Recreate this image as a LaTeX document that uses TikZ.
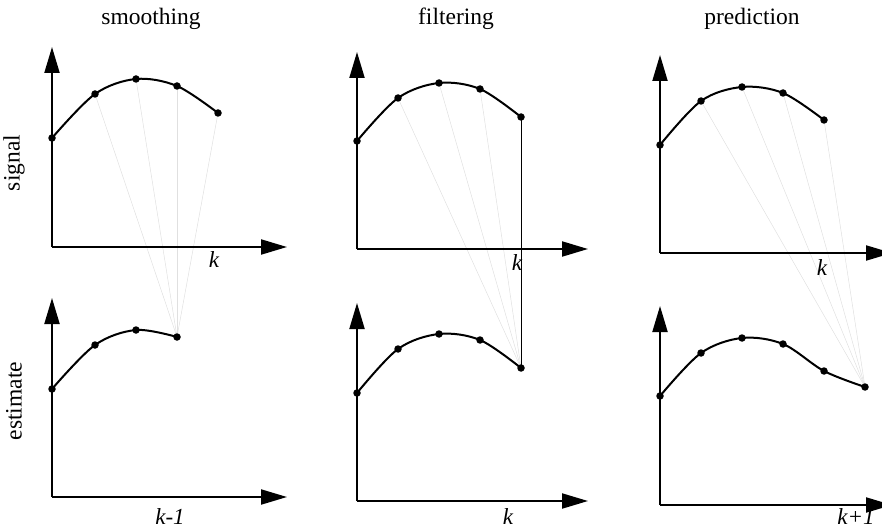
\documentclass[tikz,border=0pt]{standalone}
\usepackage{fontspec}
\setmainfont{Liberation Serif}
\usetikzlibrary{arrows.meta}
\begin{document}
\begin{tikzpicture}[x=1pt,y=-1pt,
  axis/.style={line width=2pt,-{Triangle[length=26pt,width=15pt]}},
  curve/.style={line width=2pt,line join=round},
  dot/.style={circle,fill=black,inner sep=0pt,minimum size=7.5pt},
  ray/.style={line width=0.5pt,draw=black!12},
  lbl/.style={font=\fontsize{23.5}{25}\selectfont},
  klbl/.style={inner sep=0pt,font=\fontsize{23}{25}\selectfont\itshape}]
\useasboundingbox (0,0) rectangle (882,529);
% titles
\node[lbl] (t1) at (151,19) {smoothing};
\node[lbl] (t2) at (456,19) {filtering};
\node[lbl] (t3) at (752,19) {prediction};
\node[lbl,rotate=90] (ysig) at (14,163) {signal};
\node[lbl,rotate=90] (yest) at (14,401) {estimate};
% axes origins
\coordinate (o1) at (52,247); \coordinate (o2) at (357,249); \coordinate (o3) at (660,253);
\coordinate (o4) at (52,497); \coordinate (o5) at (357,501); \coordinate (o6) at (660,505);
\coordinate (y1) at (52,47);  \coordinate (y2) at (357,52);  \coordinate (y3) at (660,55);
\coordinate (y4) at (52,298); \coordinate (y5) at (357,303); \coordinate (y6) at (660,306);
\coordinate (x1) at (287,247); \coordinate (x2) at (588,249); \coordinate (x3) at (892,253);
\coordinate (x4) at (287,497); \coordinate (x5) at (588,501); \coordinate (x6) at (892,505);
% points
\coordinate (a1) at (52,138); \coordinate (a2) at (95,94); \coordinate (a3) at (136,79); \coordinate (a4) at (177,86); \coordinate (a5) at (218,113);
\coordinate (b1) at (357,141); \coordinate (b2) at (398,98); \coordinate (b3) at (439,83); \coordinate (b4) at (480,89); \coordinate (b5) at (521,117);
\coordinate (c1) at (660,145); \coordinate (c2) at (701,101); \coordinate (c3) at (742,87); \coordinate (c4) at (783,93); \coordinate (c5) at (824,120);
\coordinate (d1) at (52,389); \coordinate (d2) at (95,345); \coordinate (d3) at (136,330); \coordinate (d4) at (177,337);
\coordinate (e1) at (357,393); \coordinate (e2) at (398,349); \coordinate (e3) at (439,334); \coordinate (e4) at (480,340); \coordinate (e5) at (521,368);
\coordinate (f1) at (660,396); \coordinate (f2) at (701,353); \coordinate (f3) at (742,338); \coordinate (f4) at (783,344); \coordinate (f5) at (824,371); \coordinate (f6) at (865,387);
% rays
\foreach \p in {a2,a3,a4,a5} \draw[ray] (\p) -- (d4);
\foreach \p in {b2,b3,b4} \draw[ray] (\p) -- (e5);
\foreach \p in {c2,c3,c4,c5} \draw[ray] (\p) -- (f6);
\draw[line width=1pt] (b5) -- (e5);
% axes
\foreach \i in {1,...,6} {
  \draw[axis] (o\i) -- (y\i);
  \draw[axis] (o\i) -- (x\i);
}
% curves
\draw[curve] plot[smooth,tension=0.55] coordinates {(a1) (a2) (a3) (a4) (a5)};
\draw[curve] plot[smooth,tension=0.55] coordinates {(b1) (b2) (b3) (b4) (b5)};
\draw[curve] plot[smooth,tension=0.55] coordinates {(c1) (c2) (c3) (c4) (c5)};
\draw[curve] plot[smooth,tension=0.55] coordinates {(d1) (d2) (d3) (d4)};
\draw[curve] plot[smooth,tension=0.55] coordinates {(e1) (e2) (e3) (e4) (e5)};
\draw[curve] plot[smooth,tension=0.55] coordinates {(f1) (f2) (f3) (f4) (f5) (f6)};
\foreach \p in {a1,a2,a3,a4,a5,b1,b2,b3,b4,b5,c1,c2,c3,c4,c5,d1,d2,d3,d4,e1,e2,e3,e4,e5,f1,f2,f3,f4,f5,f6}
  \node[dot] at (\p) {};
% k labels
\node[klbl] (k1) at (214,260) {k};
\node[klbl] (k2) at (517,263) {k};
\node[klbl] (k3) at (822,268) {k};
\node[klbl] (k4) at (170,517) {k-1};
\node[klbl] (k5) at (508,517) {k};
\node[klbl] (k6) at (856,517) {k+1};
\end{tikzpicture}
\end{document}
